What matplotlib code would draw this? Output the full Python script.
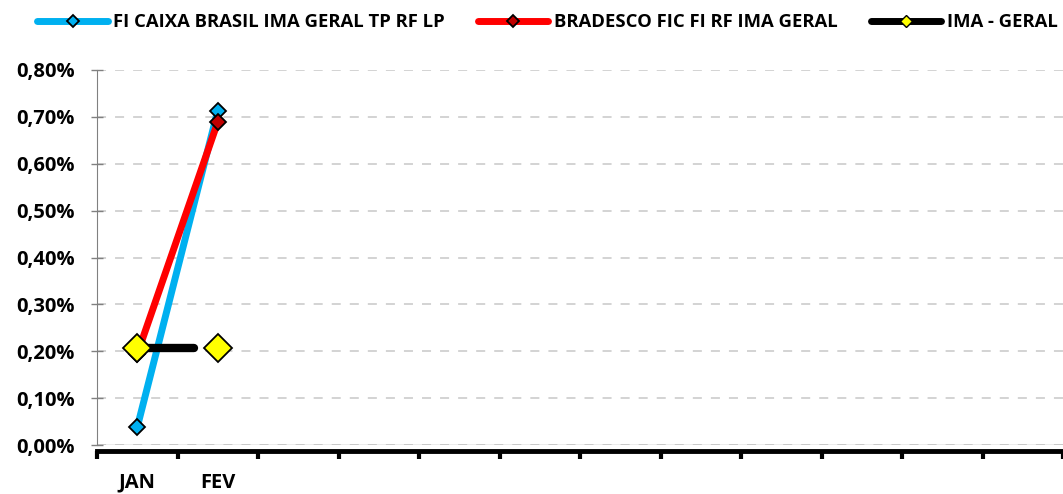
import numpy as np
import matplotlib.pyplot as plt
from matplotlib.lines import Line2D

meses = ['JAN', 'FEV', '', '', '', '', '', '', '', '', '', '']
caixa = [0.038, 0.713]
bradesco = [0.194, 0.689]
ima_geral = [0.206, 0.206]

plt.rcParams['font.family'] = ['Open Sans', 'DejaVu Sans']
plt.rcParams['font.weight'] = 'bold'

fig = plt.figure(figsize=(10.63, 4.94), dpi=100)
ax = fig.add_axes([97 / 1063, 1 - 445 / 494, 966 / 1063, 375 / 494])

x = np.arange(len(meses))

ax.plot(x[:2], caixa, color='#00B0F0', lw=5, solid_capstyle='round',
        marker='D', ms=8, mfc='#00B0F0', mec='black', mew=1.3, zorder=3)
ax.plot(x[:2], bradesco, color='#FF0000', lw=5, solid_capstyle='round',
        marker='D', ms=8, mfc='#C00000', mec='black', mew=1.3, zorder=4)

# a linha do IMA para antes de FEV no original
frac = 0.7
ax.plot([x[0], x[0] + frac * (x[1] - x[0])], ima_geral, color='black', lw=6,
        solid_capstyle='round', zorder=5)
ax.plot(x[:2], ima_geral, ls='none', marker='D', ms=14, mfc='#FFFF00',
        mec='black', mew=1.3, zorder=6)

ax.set_xlim(-0.5, len(meses) - 0.5)
ax.set_ylim(0, 0.8)
yt = np.arange(0, 0.81, 0.1)
ax.set_yticks(yt)
ax.set_yticklabels([f'{v:.2f}%'.replace('.', ',') for v in yt])
ax.set_xticks(x)
ax.set_xticklabels(meses)
ax.set_xticks(np.arange(-0.5, len(meses), 1), minor=True)
ax.tick_params(axis='x', which='major', length=0, pad=16, labelsize=14.5)
ax.tick_params(axis='x', which='minor', length=6, width=3, color='black')
ax.tick_params(axis='y', direction='inout', length=8, width=1, color='#808080',
               pad=12, labelsize=14.5)

ax.yaxis.grid(True, ls=(0, (5, 5)), color='#D0D0D0', lw=1.3)
ax.set_axisbelow(True)
ax.axhline(0, color='#A0A0A0', lw=1, zorder=1)
for s in ['top', 'right']:
    ax.spines[s].set_visible(False)
ax.spines['left'].set_color('#808080')
ax.spines['bottom'].set_color('black')
ax.spines['bottom'].set_linewidth(3.5)
ax.spines['bottom'].set_position(('outward', 4))

handles = [
    Line2D([], [], color='#00B0F0', lw=5, solid_capstyle='round', marker='D',
           ms=6, mfc='#00B0F0', mec='black', mew=1.3),
    Line2D([], [], color='#FF0000', lw=5, solid_capstyle='round', marker='D',
           ms=6, mfc='#C00000', mec='black', mew=1.3),
    Line2D([], [], color='black', lw=5, solid_capstyle='round', marker='D',
           ms=6, mfc='#FFFF00', mec='black', mew=1.0),
]
labels = ['FI CAIXA BRASIL IMA GERAL TP RF LP', 'BRADESCO FIC FI RF IMA GERAL', 'IMA - GERAL']
fig.legend(handles, labels, loc='center', bbox_to_anchor=(0.515, 0.955), ncol=3,
           frameon=False, handlelength=3.8, columnspacing=1.8, handletextpad=0.3,
           prop={'size': 13.3, 'weight': 'bold'})

fig.savefig('out.png', dpi=100)
